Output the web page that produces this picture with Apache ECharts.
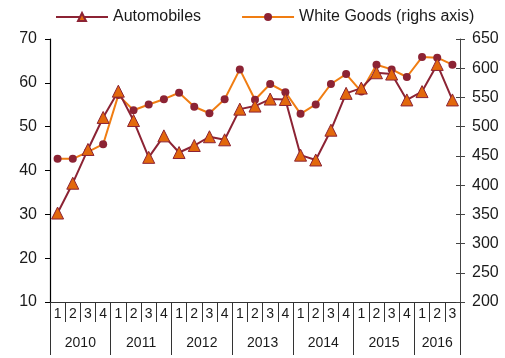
<!DOCTYPE html>
<html>
<head>
<meta charset="utf-8">
<script src="https://cdn.jsdelivr.net/npm/echarts@6/dist/echarts.min.js"></script>
<style>
  html, body { margin: 0; padding: 0; background: #fff; }
  #myChart { width: 505px; height: 358px; }
</style>
</head>
<body>
<div id="myChart"></div>
<script type="text/javascript">

  // quarters 2010 Q1 .. 2016 Q3
  var quarters = ["1","2","3","4","1","2","3","4","1","2","3","4","1","2","3","4",
                  "1","2","3","4","1","2","3","4","1","2","3"];
  var years = ["2010", "2011", "2012", "2013", "2014", "2015", "2016"];
  var yearBounds = [0, 4, 8, 12, 16, 20, 24, 27];
  var yearCenters = [2, 6, 10, 14, 18, 22, 25.5];

  var automobiles = [30.3, 37.1, 44.8, 52.1, 58.1, 51.4, 43.0, 47.9, 44.1, 45.7, 47.7, 47.0,
                     54.0, 54.7, 56.3, 56.2, 43.5, 42.4, 49.2, 57.6, 58.8, 62.3, 62.0, 56.1,
                     58.0, 64.2, 56.1];
  var whiteGoods = [445, 445, 457, 470, 554, 528, 538, 547, 558, 534, 523, 547,
                    598, 546, 573, 559, 522, 538, 573, 590, 560, 606, 598, 585,
                    619, 618, 606];

  var darkRed = "#8C2334";
  var orange = "#F07D12";
  var markerOrange = "#E2680C";
  var textColor = "#1a1a1a";
  var fontFamily = "Liberation Sans, Arial, sans-serif";

  var chartDom = document.getElementById("myChart");
  var myChart = echarts.init(chartDom);

  var option = {
    backgroundColor: "#fff",
    animation: false,
    textStyle: { fontFamily: fontFamily },
    legend: {
      top: 4,
      left: 50,
      itemWidth: 52,
      itemHeight: 10,
      itemGap: 40,
      textStyle: { fontSize: 16, color: textColor, fontFamily: fontFamily },
      data: ["Automobiles", "White Goods (righs axis)"]
    },
    grid: {
      left: 50,
      right: 45,
      top: 39,
      bottom: 56,
      containLabel: false,
      outerBoundsMode: "none"
    },
    xAxis: [
      {
        type: "category",
        data: quarters,
        boundaryGap: true,
        axisLine: { show: true, lineStyle: { color: "#333", width: 1 } },
        axisTick: { show: true, interval: 0, length: 20, lineStyle: { color: "#333" } },
        axisLabel: { interval: 0, margin: 5, fontSize: 14, color: textColor, fontFamily: fontFamily },
        splitLine: { show: false }
      },
      {
        type: "value",
        min: 0,
        max: 27,
        position: "bottom",
        axisLine: { show: false },
        axisTick: { show: true, length: 53, customValues: yearBounds, lineStyle: { color: "#333" } },
        axisLabel: {
          customValues: yearCenters,
          margin: 34,
          fontSize: 14,
          color: textColor,
          fontFamily: fontFamily,
          formatter: function (v) {
            var i = yearCenters.indexOf(v);
            return i >= 0 ? years[i] : "";
          }
        },
        splitLine: { show: false }
      }
    ],
    yAxis: [
      {
        type: "value",
        min: 10,
        max: 70,
        interval: 10,
        position: "left",
        axisLine: { show: true, lineStyle: { color: "#000", width: 1.2 } },
        axisTick: { show: true, length: 5, lineStyle: { color: "#000" } },
        axisLabel: { fontSize: 16, color: textColor, margin: 13, fontFamily: fontFamily },
        splitLine: { show: false }
      },
      {
        type: "value",
        min: 200,
        max: 650,
        interval: 50,
        position: "right",
        axisLine: { show: true, lineStyle: { color: "#444", width: 1 } },
        axisTick: { show: true, length: 5, lineStyle: { color: "#444" } },
        axisLabel: { fontSize: 16, color: textColor, margin: 12, fontFamily: fontFamily },
        splitLine: { show: false }
      },
      {
        // inner half of the crossing ticks on the right axis
        type: "value",
        min: 200,
        max: 650,
        interval: 50,
        position: "right",
        axisLine: { show: false },
        axisTick: { show: true, inside: true, length: 4, lineStyle: { color: "#444" } },
        axisLabel: { show: false },
        splitLine: { show: false }
      }
    ],
    series: [
      {
        name: "White Goods (righs axis)",
        type: "line",
        yAxisIndex: 1,
        xAxisIndex: 0,
        data: whiteGoods,
        symbol: "circle",
        symbolSize: 8,
        lineStyle: { color: orange, width: 2 },
        itemStyle: { color: darkRed, borderColor: darkRed, borderWidth: 0 },
        z: 2
      },
      {
        name: "Automobiles",
        type: "line",
        yAxisIndex: 0,
        xAxisIndex: 0,
        data: automobiles,
        symbol: "triangle",
        symbolSize: 12,
        lineStyle: { color: darkRed, width: 2 },
        itemStyle: { color: markerOrange, borderColor: darkRed, borderWidth: 1 },
        z: 3
      }
    ]
  };

  option && myChart.setOption(option);
</script>
</body>
</html>
